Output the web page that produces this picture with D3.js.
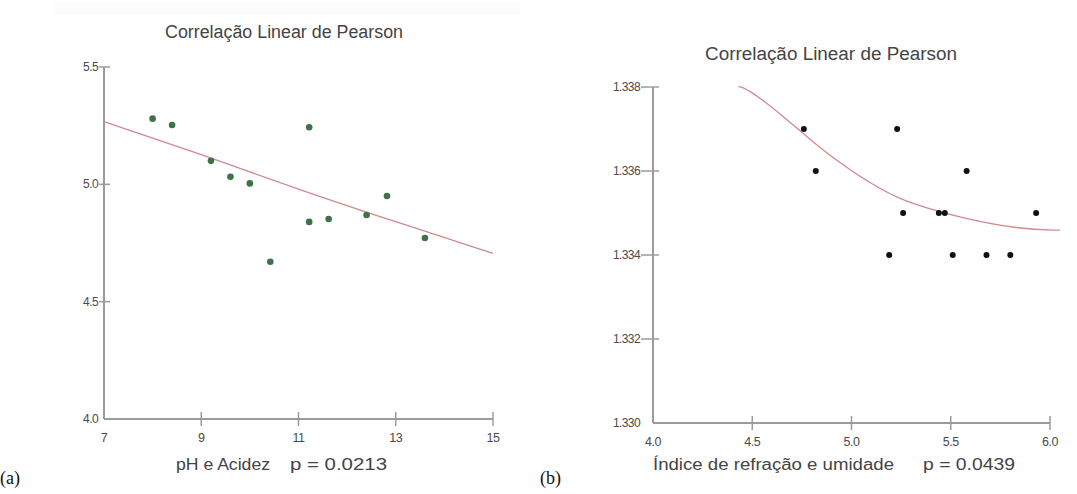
<!DOCTYPE html>
<html lang="pt">
<head>
<meta charset="utf-8">
<script src="https://d3js.org/d3.v7.min.js"></script>
<style>
  body { margin: 0; background: #fff; }
  svg { display: block; font-family: "Liberation Sans", Arial, sans-serif; }
</style>
</head>
<body>
<div id="chart"></div>
<script>
// ---- data ----
// (a) pH x Acidez
const phX = [8.0, 8.4, 9.2, 9.6, 10.0, 11.22, 11.22, 11.62, 12.4, 12.82, 13.6, 10.42];
const phY = [5.28, 5.253, 5.10, 5.032, 5.004, 5.243, 4.84, 4.852, 4.869, 4.95, 4.771, 4.67];
const phFitX = [7, 9, 11, 13, 15];
const phFitY = [5.267, 5.128, 4.978, 4.84, 4.706];
const phXTicks = [7, 9, 11, 13, 15];
const phYTicks = [4.0, 4.5, 5.0, 5.5];

// (b) Indice de refracao x umidade
const irX = [4.76, 4.82, 5.23, 5.26, 5.44, 5.47, 5.58, 5.93, 5.19, 5.51, 5.68, 5.80];
const irY = [1.337, 1.336, 1.337, 1.335, 1.335, 1.335, 1.336, 1.335, 1.334, 1.334, 1.334, 1.334];
const irFitX = [4.43, 4.47, 4.64, 4.81, 5.0, 5.14, 5.24, 5.53, 5.85, 6.05];
const irFitY = [1.33801, 1.33798, 1.33738, 1.33666, 1.33599, 1.33559, 1.33532, 1.33490, 1.33461, 1.33459];
const irXTicks = [4.0, 4.5, 5.0, 5.5, 6.0];
const irYTicks = [1.330, 1.332, 1.334, 1.336, 1.338];

const title = "Correlação Linear de Pearson";

const svg = d3.select("#chart").append("svg")
  .attr("width", 1077).attr("height", 494);

// faint band at the top of panel (a)
svg.append("rect").attr("x", 55).attr("y", 2).attr("width", 465).attr("height", 13)
  .attr("fill", "#fcfcfc");

function drawPanel(cfg) {
  const x = d3.scaleLinear().domain(cfg.xDomain).range([cfg.left, cfg.right]);
  const y = d3.scaleLinear().domain(cfg.yDomain).range([cfg.bottom, cfg.top]);
  const g = svg.append("g");
  const axisColor = "#9b9b9b";
  const labelColor = "#4a4a4a";

  // axes lines
  g.append("line").attr("x1", cfg.left).attr("x2", cfg.left)
    .attr("y1", cfg.top).attr("y2", cfg.bottom)
    .attr("stroke", axisColor).attr("stroke-width", 2);
  g.append("line").attr("x1", cfg.left).attr("x2", cfg.right)
    .attr("y1", cfg.bottom).attr("y2", cfg.bottom)
    .attr("stroke", axisColor).attr("stroke-width", 2);

  // y ticks
  cfg.yTicks.forEach((t, i) => {
    if (i > 0) {
      g.append("line").attr("x1", cfg.left - cfg.tickL).attr("x2", cfg.left + 6)
        .attr("y1", y(t)).attr("y2", y(t))
        .attr("stroke", axisColor).attr("stroke-width", 1.5);
    }
    g.append("text").attr("x", cfg.left - cfg.tickL - 1).attr("y", y(t) + 4)
      .attr("text-anchor", "end").attr("font-size", 12)
      .attr("letter-spacing", -0.6).attr("fill", labelColor)
      .text(d3.format(cfg.yFmt)(t));
  });

  // x ticks
  cfg.xTicks.forEach((t, i) => {
    if (i > 0) {
      g.append("line").attr("x1", x(t)).attr("x2", x(t))
        .attr("y1", cfg.bottom - 7).attr("y2", cfg.bottom + 7)
        .attr("stroke", axisColor).attr("stroke-width", 1.5);
    }
    g.append("text").attr("x", x(t)).attr("y", cfg.bottom + 23)
      .attr("text-anchor", "middle").attr("font-size", 12.5)
      .attr("letter-spacing", -0.5).attr("fill", labelColor)
      .text(d3.format(cfg.xFmt)(t));
  });

  // fitted curve
  const fit = cfg.fitX.map((v, i) => [v, cfg.fitY[i]]);
  g.append("path").datum(fit)
    .attr("fill", "none").attr("stroke", "#cf8a90").attr("stroke-width", 1.3)
    .attr("d", d3.line().x(d => x(d[0])).y(d => y(d[1])).curve(d3.curveBasis));

  // points
  const pts = cfg.px.map((v, i) => [v, cfg.py[i]]);
  g.selectAll("circle.pt").data(pts).join("circle")
    .attr("class", "pt")
    .attr("cx", d => x(d[0])).attr("cy", d => y(d[1]))
    .attr("r", cfg.r).attr("fill", cfg.color);

  // title
  g.append("text").attr("x", cfg.titleX).attr("y", cfg.titleY)
    .attr("text-anchor", "middle").attr("font-size", 18)
    .attr("textLength", cfg.titleW).attr("lengthAdjust", "spacingAndGlyphs")
    .attr("fill", "#444").text(title);

  // x axis title + p value
  g.append("text").attr("x", cfg.xlabX).attr("y", 470)
    .attr("font-size", 16)
    .attr("textLength", cfg.xlabW).attr("lengthAdjust", "spacingAndGlyphs")
    .attr("fill", "#444").text(cfg.xlab);
  g.append("text").attr("x", cfg.pX).attr("y", 470)
    .attr("font-size", 16)
    .attr("textLength", cfg.pW).attr("lengthAdjust", "spacingAndGlyphs")
    .attr("fill", "#444").text(cfg.pText);

  // panel letter
  g.append("text").attr("x", cfg.letterX).attr("y", 484)
    .attr("font-family", "'Liberation Serif', 'Times New Roman', serif")
    .attr("font-size", 18).attr("fill", "#111").text(cfg.letter);
}

drawPanel({
  xDomain: [7, 15], yDomain: [4.0, 5.5],
  left: 104, right: 493, top: 67, bottom: 419, tickL: 5,
  xTicks: phXTicks, yTicks: phYTicks, xFmt: "d", yFmt: ".1f",
  fitX: phFitX, fitY: phFitY, px: phX, py: phY,
  r: 3.3, color: "#3f7248",
  titleX: 284, titleY: 38, titleW: 238,
  xlab: "pH e Acidez", xlabX: 176, xlabW: 94,
  pText: "p = 0.0213", pX: 290, pW: 97,
  letter: "(a)", letterX: 0
});

drawPanel({
  xDomain: [4.0, 6.0], yDomain: [1.330, 1.338],
  left: 653, right: 1050, top: 87, bottom: 423, tickL: 12,
  xTicks: irXTicks, yTicks: irYTicks, xFmt: ".1f", yFmt: ".3f",
  fitX: irFitX, fitY: irFitY, px: irX, py: irY,
  r: 3, color: "#111",
  titleX: 831, titleY: 60, titleW: 252,
  xlab: "Índice de refração e umidade", xlabX: 653, xlabW: 241,
  pText: "p = 0.0439", pX: 923, pW: 92,
  letter: "(b)", letterX: 540
});
</script>
</body>
</html>
